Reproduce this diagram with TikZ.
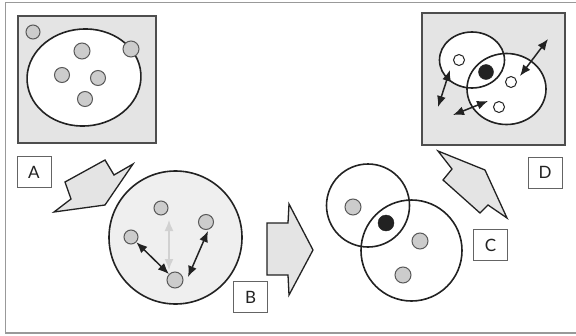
\documentclass[tikz,border=0pt]{standalone}
\usepackage{fontspec}
\setmainfont{Lato}
\usetikzlibrary{arrows.meta}
\definecolor{panel}{HTML}{E4E4E4}
\definecolor{dotfill}{HTML}{CCCCCC}
\definecolor{bfill}{HTML}{EFEFEF}
\definecolor{ink}{HTML}{222222}
\tikzset{
  frameline/.style={draw=black!40, line width=1.8pt},
  panelbox/.style={draw=ink!80, line width=1.2pt, fill=panel},
  ring/.style={draw=ink, line width=1.6pt},
  dot/.style={circle, draw=ink!75, line width=1pt, fill=dotfill, inner sep=0pt, minimum size=#1},
  wdot/.style={circle, draw=ink, line width=1pt, fill=white, inner sep=0pt, minimum size=11pt},
  bdot/.style={circle, draw=ink, fill=ink, inner sep=0pt, minimum size=#1},
  bigarrow/.style={draw=ink, line width=1.3pt, fill=panel, line join=miter},
  tag/.style={draw=ink!70, line width=1pt, fill=white, minimum width=34pt, minimum height=31pt, inner sep=0pt, font=\fontsize{17}{17}\selectfont, text=ink},
  dbl/.style={{Latex[length=11pt,width=9pt]}-{Latex[length=11pt,width=9pt]}, line width=1.5pt, draw=ink},
  faint/.style={{Latex[length=11pt,width=9pt]}-{Latex[length=11pt,width=9pt]}, line width=1.5pt, draw=black!18}
}
\begin{document}
\begin{tikzpicture}[x=1pt,y=-1pt]
\useasboundingbox (0,0) rectangle (576,335);
% outer frame (open on the right)
\draw[frameline] (576,2.5) -- (5.5,2.5) -- (5.5,333) -- (576,333);

% ---- panel A ----
\draw[panelbox] (18,16) rectangle (156,143);
\draw[ring, fill=white, rotate around={4:(84,77.5)}] (84,77.5) ellipse [x radius=57, y radius=48.5];
\node[dot=14pt] (a1) at (33,32) {};
\node[dot=16pt] (a2) at (82,51) {};
\node[dot=15pt] (a3) at (62,75) {};
\node[dot=15pt] (a4) at (98,78) {};
\node[dot=15pt] (a5) at (85,99) {};
\node[dot=16pt] (a6) at (131,49) {};
\node[tag] (tA) at (34,172) {A};

% arrow A -> B
\draw[bigarrow] (54,212) -- (71,199) -- (65,182) -- (105,160) -- (114,175) -- (133,164) -- (105,205) -- cycle;

% ---- panel B ----
\draw[ring, fill=bfill] (175.5,237.5) circle [radius=66.5];
\node[dot=14pt] (b1) at (161,208) {};
\node[dot=15pt] (b2) at (206,222) {};
\node[dot=14pt] (b3) at (131,237) {};
\node[dot=16pt] (b4) at (175,280) {};
\coordinate (g1) at (169,220);
\coordinate (g2) at (169,270);
\draw[faint] (g1) -- (g2);
\draw[dbl] (b3) -- (b4);
\coordinate (r1) at (208,231);
\coordinate (r2) at (188,277);
\draw[dbl] (r1) -- (r2);
\node[tag] (tB) at (250.5,297) {B};

% arrow B -> C
\draw[bigarrow] (267,223) -- (288,223) -- (289,204) -- (313,250) -- (289,295) -- (288,275) -- (267,275) -- cycle;

% ---- panel C ----
\draw[ring] (368,205.5) circle [radius=41.5];
\draw[ring] (411.5,250.5) circle [radius=50.5];
\node[dot=16pt] (c1) at (353,207) {};
\node[dot=16pt] (c2) at (420,241) {};
\node[dot=16pt] (c3) at (403,275) {};
\node[bdot=16pt] (c4) at (386,223) {};
\node[tag] (tC) at (490.5,245) {C};

% arrow C -> D
\draw[bigarrow] (438,151) -- (485,170) -- (507,218) -- (488,205) -- (480,213) -- (443,180) -- (452,169) -- cycle;

% ---- panel D ----
\draw[panelbox] (422,13) rectangle (565,145);
\draw[ring, fill=white] (472,60) ellipse [x radius=32.5, y radius=28];
\draw[ring, fill=white] (506.5,89) ellipse [x radius=39.5, y radius=35.5];
% overlap lens keeps the first ring's outline visible
\begin{scope}
  \clip (506.5,89) ellipse [x radius=39.5, y radius=35.5];
  \draw[ring] (472,60) ellipse [x radius=32.5, y radius=28];
\end{scope}
\node[wdot] (d1) at (459,60) {};
\node[wdot] (d2) at (511,82) {};
\node[wdot] (d3) at (499,107) {};
\node[bdot=15pt] (d4) at (486,72) {};
\coordinate (p1) at (450,70);
\coordinate (p2) at (438,107);
\coordinate (q1) at (548,39);
\coordinate (q2) at (520,76);
\coordinate (s1) at (488,101);
\coordinate (s2) at (453,115);
\draw[dbl] (p1) -- (p2);
\draw[dbl] (q1) -- (q2);
\draw[dbl] (s1) -- (s2);
\node[tag] (tD) at (545,172.5) {D};
\end{tikzpicture}
\end{document}
